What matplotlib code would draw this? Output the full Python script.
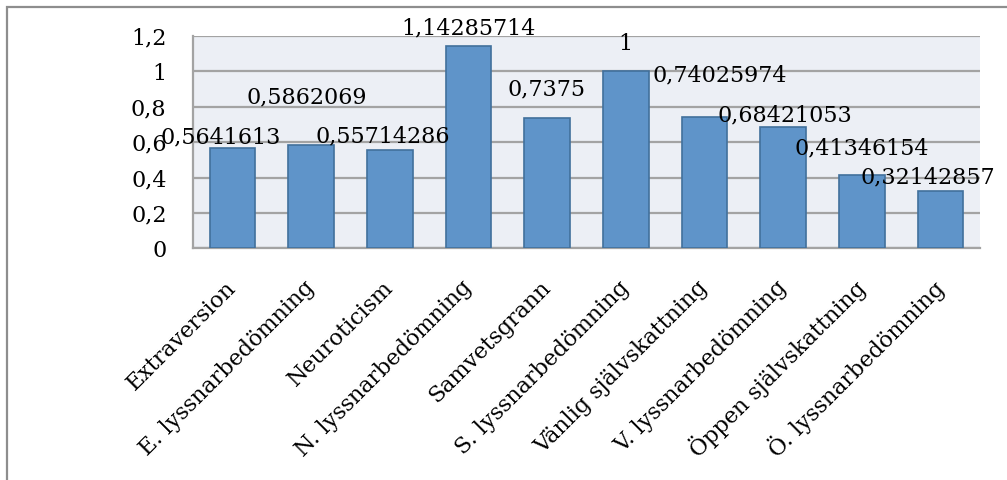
import matplotlib.pyplot as plt
import matplotlib.transforms as mtransforms
from matplotlib.patches import Rectangle
import numpy as np

categories = ["Extraversion", "E. lyssnarbedömning", "Neuroticism", "N. lyssnarbedömning",
              "Samvetsgrann", "S. lyssnarbedömning", "Vänlig självskattning",
              "V. lyssnarbedömning", "Öppen självskattning", "Ö. lyssnarbedömning"]
values = [0.5641613, 0.5862069, 0.55714286, 1.14285714, 0.7375,
          1.0, 0.74025974, 0.68421053, 0.41346154, 0.32142857]
yticks = [0, 0.2, 0.4, 0.6, 0.8, 1.0, 1.2]

# where each value label sits relative to its bar top (pixels)
label_shift = [(-12, 11), (-4, 47), (-7, 13), (0, 18), (-1, 28),
               (0, 27), (15, 42), (2, 12), (0, 27), (-13, 14)]


def fmt(v):
    s = ("%.8f" % v).rstrip("0").rstrip(".")
    return s.replace(".", ",")


plt.rcParams['font.family'] = ['DejaVu Serif']
plt.rcParams['font.size'] = 16

fig = plt.figure(figsize=(10.07, 4.80), dpi=100)
ax = fig.add_axes([193 / 1007, 1 - 248.3 / 480, (980 - 193) / 1007, (248.3 - 36) / 480])
ax.set_facecolor("#ECEFF5")

x = np.arange(len(categories))
bars = ax.bar(x, values, 0.58, color="#5F94C9", edgecolor="#41709C", linewidth=1.2, zorder=3)

for xi, v, (dx, dy) in zip(x, values, label_shift):
    ax.annotate(fmt(v), (xi, v), xytext=(dx * 0.72, dy * 0.72), textcoords="offset points",
                ha="center", va="center", fontsize=16, zorder=4)

ax.set_xlim(-0.5, len(categories) - 0.5)
ax.set_ylim(0, 1.2)
ax.set_yticks(yticks, [fmt(t) for t in yticks])
ax.grid(axis="y", color="#A3A3A3", linewidth=1.6, zorder=1)
ax.tick_params(axis="y", length=0, pad=19)

ax.set_xticks(x, categories)
ax.tick_params(axis="x", length=0, pad=26)
shift = mtransforms.ScaledTranslation(0, 0, fig.dpi_scale_trans)
for lab in ax.get_xticklabels():
    lab.set_rotation(45)
    lab.set_rotation_mode("anchor")
    lab.set_ha("right")
    lab.set_va("center")
    lab.set_transform(lab.get_transform() + shift)

for side in ("top", "right"):
    ax.spines[side].set_visible(False)
for side in ("left", "bottom"):
    ax.spines[side].set_color("#A3A3A3")
    ax.spines[side].set_linewidth(1.6)

# outer chart border
fig.patches.append(Rectangle((6.5 / 1007, -0.1), 1.2, 1 - 6.5 / 480 + 0.1,
                             transform=fig.transFigure, fill=False,
                             edgecolor="#8E8E8E", linewidth=1.6))

fig.savefig("out.png", dpi=100)
